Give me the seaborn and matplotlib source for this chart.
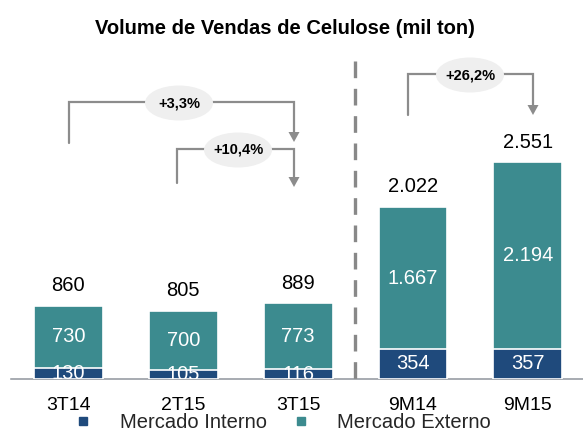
import matplotlib
matplotlib.use("Agg")
import matplotlib.pyplot as plt
import seaborn as sns
import pandas as pd
from matplotlib.lines import Line2D
from matplotlib.patches import Ellipse, Polygon

# ---- data ----
categories = ["3T14", "2T15", "3T15", "9M14", "9M15"]
mercado_interno = [130, 105, 116, 354, 357]
mercado_externo = [730, 700, 773, 1667, 2194]
totais = [860, 805, 889, 2022, 2551]
legend_labels = ["Mercado Interno", "Mercado Externo"]
title_text = "Volume de Vendas de Celulose (mil ton)"
variacoes = ["+3,3%", "+10,4%", "+26,2%"]

NAVY = "#1f4a7c"
TEAL = "#3c8b8f"
GREY = "#8c8c8c"

sns.set_style("white")
plt.rcParams["font.family"] = ["Liberation Sans", "DejaVu Sans"]

df = pd.DataFrame({"cat": categories, "interno": mercado_interno,
                   "externo": mercado_externo, "total": totais})

W, H = 583, 434
fig = plt.figure(figsize=(W / 100, H / 100), dpi=100)

# main axes: bottom at y=379px, left at x=11px
ax_bottom_px, ax_top_px = 379, 50
ax = fig.add_axes([11 / W, (H - ax_bottom_px) / H, (W - 11) / W, (ax_bottom_px - ax_top_px) / H])

sns.barplot(data=df, x="cat", y="total", color=TEAL, saturation=1, width=0.6,
            edgecolor="white", linewidth=1.2, errorbar=None, ax=ax, zorder=2)
sns.barplot(data=df, x="cat", y="interno", color=NAVY, saturation=1, width=0.6,
            edgecolor="white", linewidth=1.2, errorbar=None, ax=ax, zorder=3)

scale = 0.085  # px per unit
ax.set_xlim(-0.5, 4.48)
ax.set_ylim(0, (ax_bottom_px - ax_top_px) / scale)

def fmt(v):
    return f"{v:,}".replace(",", ".")

for i, (mi, me, tot) in enumerate(zip(mercado_interno, mercado_externo, totais)):
    ax.annotate(fmt(tot), (i, tot), xytext=(0, 14.5), textcoords="offset points",
                ha="center", va="center", fontsize=14.5, color="black")
    ax.text(i, mi + me / 2, fmt(me), ha="center", va="center", fontsize=14.5,
            color="white", zorder=4)
    ax.text(i, mi / 2, fmt(mi), ha="center", va="center", fontsize=14.5,
            color="white", zorder=4, clip_on=True)

for s in ["top", "right", "left"]:
    ax.spines[s].set_visible(False)
ax.spines["bottom"].set_color("#8f959c")
ax.spines["bottom"].set_linewidth(1.1)
ax.set_yticks([])
ax.set_xlabel("")
ax.set_ylabel("")
ax.tick_params(axis="x", which="major", length=0, pad=13, labelsize=14, labelcolor="black")
ax.set_xticks([-0.5, 0.5, 1.5, 2.5, 3.5], minor=True)
ax.tick_params(axis="x", which="minor", length=4.5, width=1, color="#8f959c", direction="out")

# overlay in pixel coordinates for annotations
ov = fig.add_axes([0, 0, 1, 1], zorder=10)
ov.set_xlim(0, W)
ov.set_ylim(H, 0)
ov.axis("off")
ov.patch.set_alpha(0)

# dashed separator
ov.plot([355, 355], [61, 387], color="#888888", lw=2.4, dashes=(5, 3.2))

def bracket(x0, y0, ytop, x1, ytip, label, ex):
    head_h, head_w = 10, 5.5
    ov.plot([x0, x0, x1, x1], [y0, ytop, ytop, ytip - head_h + 1], color=GREY, lw=1.6,
            solid_joinstyle="miter", zorder=2)
    ov.add_patch(Polygon([[x1 - head_w, ytip - head_h], [x1 + head_w, ytip - head_h], [x1, ytip]],
                         closed=True, color=GREY, lw=0, zorder=2))
    ov.add_patch(Ellipse((ex, ytop + 1), 68, 35, facecolor="#efefef", edgecolor="none", zorder=3))
    ov.text(ex, ytop + 1, label, ha="center", va="center", fontsize=10.5,
            fontweight="bold", color="black", zorder=4)

bracket(69, 143, 102, 294, 142, variacoes[0], 179)
bracket(177, 183, 149, 294, 187, variacoes[1], 238)
bracket(408, 115, 74, 533, 115, variacoes[2], 470)

# title
fig.text(285 / W, 1 - 28 / H, title_text, ha="center", va="center",
         fontsize=14.5, fontweight="bold", color="black")

# legend
handles = [Line2D([], [], marker="s", linestyle="none", markersize=6, color=NAVY),
           Line2D([], [], marker="s", linestyle="none", markersize=6, color=TEAL)]
fig.legend(handles, legend_labels, loc="center", bbox_to_anchor=(282 / W, 1 - 423 / H),
           ncol=2, frameon=False, fontsize=14.5, handlelength=1.0, handletextpad=1.3,
           columnspacing=1.2, borderpad=0, borderaxespad=0)

fig.savefig("out.png", dpi=100)
